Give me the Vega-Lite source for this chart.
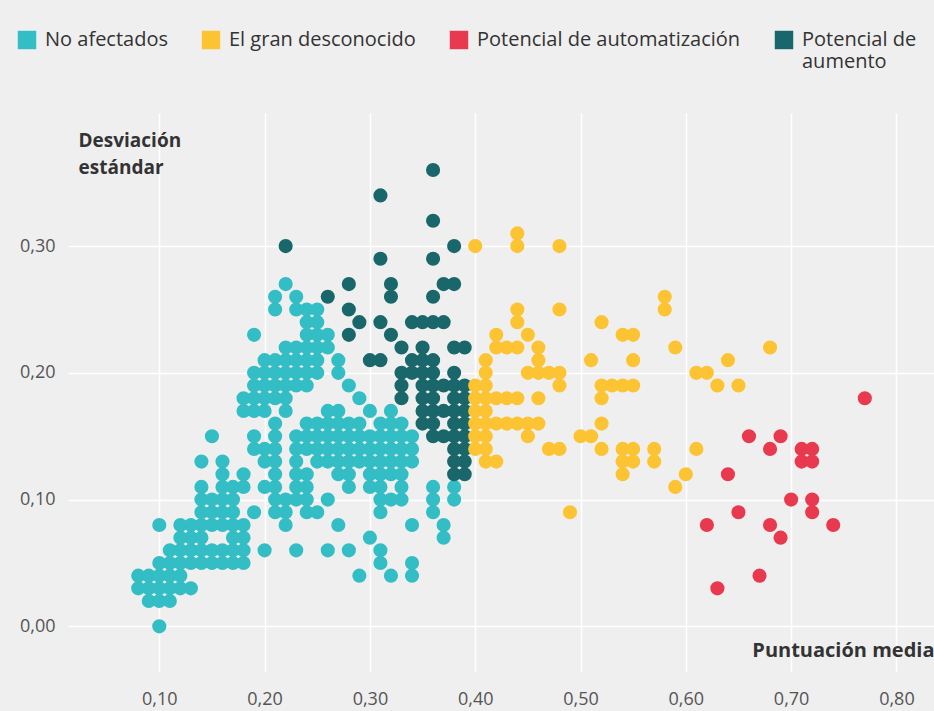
{
  "$schema": "https://vega.github.io/schema/vega-lite/v6.json",
  "width": 866,
  "height": 559,
  "autosize": {"type": "none"},
  "padding": {"left": 68, "top": 113, "right": 0, "bottom": 39},
  "background": "#efefef",
  "config": {
    "view": {"stroke": null, "fill": "#efefef"},
    "font": "Open Sans"
  },
  "data": {
    "values": [
      {"x":0.08,"y":0.03,"g":"No afectados"},{"x":0.08,"y":0.04,"g":"No afectados"},
      {"x":0.09,"y":0.02,"g":"No afectados"},{"x":0.09,"y":0.03,"g":"No afectados"},{"x":0.09,"y":0.04,"g":"No afectados"},
      {"x":0.10,"y":0.00,"g":"No afectados"},{"x":0.10,"y":0.02,"g":"No afectados"},{"x":0.10,"y":0.03,"g":"No afectados"},{"x":0.10,"y":0.04,"g":"No afectados"},{"x":0.10,"y":0.05,"g":"No afectados"},{"x":0.10,"y":0.08,"g":"No afectados"},
      {"x":0.11,"y":0.02,"g":"No afectados"},{"x":0.11,"y":0.03,"g":"No afectados"},{"x":0.11,"y":0.04,"g":"No afectados"},{"x":0.11,"y":0.05,"g":"No afectados"},{"x":0.11,"y":0.06,"g":"No afectados"},
      {"x":0.12,"y":0.03,"g":"No afectados"},{"x":0.12,"y":0.04,"g":"No afectados"},{"x":0.12,"y":0.05,"g":"No afectados"},{"x":0.12,"y":0.06,"g":"No afectados"},{"x":0.12,"y":0.07,"g":"No afectados"},{"x":0.12,"y":0.08,"g":"No afectados"},
      {"x":0.13,"y":0.03,"g":"No afectados"},{"x":0.13,"y":0.05,"g":"No afectados"},{"x":0.13,"y":0.06,"g":"No afectados"},{"x":0.13,"y":0.07,"g":"No afectados"},{"x":0.13,"y":0.08,"g":"No afectados"},
      {"x":0.14,"y":0.05,"g":"No afectados"},{"x":0.14,"y":0.06,"g":"No afectados"},{"x":0.14,"y":0.07,"g":"No afectados"},{"x":0.14,"y":0.08,"g":"No afectados"},{"x":0.14,"y":0.09,"g":"No afectados"},{"x":0.14,"y":0.10,"g":"No afectados"},{"x":0.14,"y":0.11,"g":"No afectados"},{"x":0.14,"y":0.13,"g":"No afectados"},
      {"x":0.15,"y":0.05,"g":"No afectados"},{"x":0.15,"y":0.06,"g":"No afectados"},{"x":0.15,"y":0.08,"g":"No afectados"},{"x":0.15,"y":0.09,"g":"No afectados"},{"x":0.15,"y":0.10,"g":"No afectados"},{"x":0.15,"y":0.15,"g":"No afectados"},
      {"x":0.16,"y":0.05,"g":"No afectados"},{"x":0.16,"y":0.06,"g":"No afectados"},{"x":0.16,"y":0.08,"g":"No afectados"},{"x":0.16,"y":0.09,"g":"No afectados"},{"x":0.16,"y":0.10,"g":"No afectados"},{"x":0.16,"y":0.11,"g":"No afectados"},{"x":0.16,"y":0.12,"g":"No afectados"},{"x":0.16,"y":0.13,"g":"No afectados"},
      {"x":0.17,"y":0.05,"g":"No afectados"},{"x":0.17,"y":0.06,"g":"No afectados"},{"x":0.17,"y":0.07,"g":"No afectados"},{"x":0.17,"y":0.08,"g":"No afectados"},{"x":0.17,"y":0.09,"g":"No afectados"},{"x":0.17,"y":0.10,"g":"No afectados"},{"x":0.17,"y":0.11,"g":"No afectados"},
      {"x":0.18,"y":0.05,"g":"No afectados"},{"x":0.18,"y":0.06,"g":"No afectados"},{"x":0.18,"y":0.07,"g":"No afectados"},{"x":0.18,"y":0.08,"g":"No afectados"},{"x":0.18,"y":0.11,"g":"No afectados"},{"x":0.18,"y":0.12,"g":"No afectados"},{"x":0.18,"y":0.17,"g":"No afectados"},{"x":0.18,"y":0.18,"g":"No afectados"},
      {"x":0.19,"y":0.09,"g":"No afectados"},{"x":0.19,"y":0.14,"g":"No afectados"},{"x":0.19,"y":0.15,"g":"No afectados"},{"x":0.19,"y":0.17,"g":"No afectados"},{"x":0.19,"y":0.18,"g":"No afectados"},{"x":0.19,"y":0.19,"g":"No afectados"},{"x":0.19,"y":0.20,"g":"No afectados"},{"x":0.19,"y":0.23,"g":"No afectados"},
      {"x":0.20,"y":0.06,"g":"No afectados"},{"x":0.20,"y":0.11,"g":"No afectados"},{"x":0.20,"y":0.13,"g":"No afectados"},{"x":0.20,"y":0.14,"g":"No afectados"},{"x":0.20,"y":0.17,"g":"No afectados"},{"x":0.20,"y":0.18,"g":"No afectados"},{"x":0.20,"y":0.19,"g":"No afectados"},{"x":0.20,"y":0.20,"g":"No afectados"},{"x":0.20,"y":0.21,"g":"No afectados"},
      {"x":0.21,"y":0.09,"g":"No afectados"},{"x":0.21,"y":0.10,"g":"No afectados"},{"x":0.21,"y":0.11,"g":"No afectados"},{"x":0.21,"y":0.12,"g":"No afectados"},{"x":0.21,"y":0.13,"g":"No afectados"},{"x":0.21,"y":0.14,"g":"No afectados"},{"x":0.21,"y":0.15,"g":"No afectados"},{"x":0.21,"y":0.16,"g":"No afectados"},{"x":0.21,"y":0.18,"g":"No afectados"},{"x":0.21,"y":0.19,"g":"No afectados"},{"x":0.21,"y":0.20,"g":"No afectados"},{"x":0.21,"y":0.21,"g":"No afectados"},{"x":0.21,"y":0.25,"g":"No afectados"},{"x":0.21,"y":0.26,"g":"No afectados"},
      {"x":0.22,"y":0.08,"g":"No afectados"},{"x":0.22,"y":0.09,"g":"No afectados"},{"x":0.22,"y":0.10,"g":"No afectados"},{"x":0.22,"y":0.17,"g":"No afectados"},{"x":0.22,"y":0.18,"g":"No afectados"},{"x":0.22,"y":0.19,"g":"No afectados"},{"x":0.22,"y":0.20,"g":"No afectados"},{"x":0.22,"y":0.21,"g":"No afectados"},{"x":0.22,"y":0.22,"g":"No afectados"},{"x":0.22,"y":0.27,"g":"No afectados"},
      {"x":0.23,"y":0.06,"g":"No afectados"},{"x":0.23,"y":0.10,"g":"No afectados"},{"x":0.23,"y":0.11,"g":"No afectados"},{"x":0.23,"y":0.12,"g":"No afectados"},{"x":0.23,"y":0.13,"g":"No afectados"},{"x":0.23,"y":0.14,"g":"No afectados"},{"x":0.23,"y":0.15,"g":"No afectados"},{"x":0.23,"y":0.19,"g":"No afectados"},{"x":0.23,"y":0.20,"g":"No afectados"},{"x":0.23,"y":0.21,"g":"No afectados"},{"x":0.23,"y":0.22,"g":"No afectados"},{"x":0.23,"y":0.25,"g":"No afectados"},{"x":0.23,"y":0.26,"g":"No afectados"},
      {"x":0.24,"y":0.09,"g":"No afectados"},{"x":0.24,"y":0.10,"g":"No afectados"},{"x":0.24,"y":0.11,"g":"No afectados"},{"x":0.24,"y":0.12,"g":"No afectados"},{"x":0.24,"y":0.14,"g":"No afectados"},{"x":0.24,"y":0.15,"g":"No afectados"},{"x":0.24,"y":0.16,"g":"No afectados"},{"x":0.24,"y":0.19,"g":"No afectados"},{"x":0.24,"y":0.20,"g":"No afectados"},{"x":0.24,"y":0.21,"g":"No afectados"},{"x":0.24,"y":0.22,"g":"No afectados"},{"x":0.24,"y":0.23,"g":"No afectados"},{"x":0.24,"y":0.24,"g":"No afectados"},{"x":0.24,"y":0.25,"g":"No afectados"},
      {"x":0.25,"y":0.09,"g":"No afectados"},{"x":0.25,"y":0.13,"g":"No afectados"},{"x":0.25,"y":0.14,"g":"No afectados"},{"x":0.25,"y":0.15,"g":"No afectados"},{"x":0.25,"y":0.16,"g":"No afectados"},{"x":0.25,"y":0.20,"g":"No afectados"},{"x":0.25,"y":0.21,"g":"No afectados"},{"x":0.25,"y":0.22,"g":"No afectados"},{"x":0.25,"y":0.23,"g":"No afectados"},{"x":0.25,"y":0.24,"g":"No afectados"},{"x":0.25,"y":0.25,"g":"No afectados"},
      {"x":0.26,"y":0.06,"g":"No afectados"},{"x":0.26,"y":0.10,"g":"No afectados"},{"x":0.26,"y":0.13,"g":"No afectados"},{"x":0.26,"y":0.14,"g":"No afectados"},{"x":0.26,"y":0.15,"g":"No afectados"},{"x":0.26,"y":0.16,"g":"No afectados"},{"x":0.26,"y":0.17,"g":"No afectados"},{"x":0.26,"y":0.22,"g":"No afectados"},{"x":0.26,"y":0.23,"g":"No afectados"},
      {"x":0.27,"y":0.08,"g":"No afectados"},{"x":0.27,"y":0.12,"g":"No afectados"},{"x":0.27,"y":0.13,"g":"No afectados"},{"x":0.27,"y":0.14,"g":"No afectados"},{"x":0.27,"y":0.15,"g":"No afectados"},{"x":0.27,"y":0.16,"g":"No afectados"},{"x":0.27,"y":0.17,"g":"No afectados"},{"x":0.27,"y":0.20,"g":"No afectados"},{"x":0.27,"y":0.21,"g":"No afectados"},
      {"x":0.28,"y":0.06,"g":"No afectados"},{"x":0.28,"y":0.11,"g":"No afectados"},{"x":0.28,"y":0.12,"g":"No afectados"},{"x":0.28,"y":0.13,"g":"No afectados"},{"x":0.28,"y":0.14,"g":"No afectados"},{"x":0.28,"y":0.15,"g":"No afectados"},{"x":0.28,"y":0.16,"g":"No afectados"},{"x":0.28,"y":0.19,"g":"No afectados"},
      {"x":0.29,"y":0.04,"g":"No afectados"},{"x":0.29,"y":0.13,"g":"No afectados"},{"x":0.29,"y":0.14,"g":"No afectados"},{"x":0.29,"y":0.15,"g":"No afectados"},{"x":0.29,"y":0.16,"g":"No afectados"},{"x":0.29,"y":0.18,"g":"No afectados"},
      {"x":0.30,"y":0.07,"g":"No afectados"},{"x":0.30,"y":0.11,"g":"No afectados"},{"x":0.30,"y":0.12,"g":"No afectados"},{"x":0.30,"y":0.13,"g":"No afectados"},{"x":0.30,"y":0.14,"g":"No afectados"},{"x":0.30,"y":0.15,"g":"No afectados"},{"x":0.30,"y":0.17,"g":"No afectados"},
      {"x":0.31,"y":0.05,"g":"No afectados"},{"x":0.31,"y":0.06,"g":"No afectados"},{"x":0.31,"y":0.09,"g":"No afectados"},{"x":0.31,"y":0.10,"g":"No afectados"},{"x":0.31,"y":0.11,"g":"No afectados"},{"x":0.31,"y":0.12,"g":"No afectados"},{"x":0.31,"y":0.13,"g":"No afectados"},{"x":0.31,"y":0.14,"g":"No afectados"},{"x":0.31,"y":0.15,"g":"No afectados"},{"x":0.31,"y":0.16,"g":"No afectados"},
      {"x":0.32,"y":0.04,"g":"No afectados"},{"x":0.32,"y":0.10,"g":"No afectados"},{"x":0.32,"y":0.12,"g":"No afectados"},{"x":0.32,"y":0.13,"g":"No afectados"},{"x":0.32,"y":0.14,"g":"No afectados"},{"x":0.32,"y":0.15,"g":"No afectados"},{"x":0.32,"y":0.16,"g":"No afectados"},{"x":0.32,"y":0.17,"g":"No afectados"},
      {"x":0.33,"y":0.10,"g":"No afectados"},{"x":0.33,"y":0.11,"g":"No afectados"},{"x":0.33,"y":0.12,"g":"No afectados"},{"x":0.33,"y":0.13,"g":"No afectados"},{"x":0.33,"y":0.14,"g":"No afectados"},{"x":0.33,"y":0.15,"g":"No afectados"},{"x":0.33,"y":0.16,"g":"No afectados"},
      {"x":0.34,"y":0.04,"g":"No afectados"},{"x":0.34,"y":0.05,"g":"No afectados"},{"x":0.34,"y":0.08,"g":"No afectados"},{"x":0.34,"y":0.13,"g":"No afectados"},{"x":0.34,"y":0.14,"g":"No afectados"},{"x":0.34,"y":0.15,"g":"No afectados"},
      {"x":0.36,"y":0.09,"g":"No afectados"},{"x":0.36,"y":0.10,"g":"No afectados"},{"x":0.36,"y":0.11,"g":"No afectados"},
      {"x":0.37,"y":0.07,"g":"No afectados"},{"x":0.37,"y":0.08,"g":"No afectados"},
      {"x":0.38,"y":0.10,"g":"No afectados"},{"x":0.38,"y":0.11,"g":"No afectados"},

      {"x":0.22,"y":0.30,"g":"Potencial de aumento"},{"x":0.31,"y":0.34,"g":"Potencial de aumento"},{"x":0.36,"y":0.36,"g":"Potencial de aumento"},{"x":0.36,"y":0.32,"g":"Potencial de aumento"},{"x":0.38,"y":0.30,"g":"Potencial de aumento"},{"x":0.31,"y":0.29,"g":"Potencial de aumento"},{"x":0.36,"y":0.29,"g":"Potencial de aumento"},{"x":0.28,"y":0.27,"g":"Potencial de aumento"},{"x":0.26,"y":0.26,"g":"Potencial de aumento"},{"x":0.32,"y":0.27,"g":"Potencial de aumento"},{"x":0.32,"y":0.26,"g":"Potencial de aumento"},{"x":0.37,"y":0.27,"g":"Potencial de aumento"},{"x":0.38,"y":0.27,"g":"Potencial de aumento"},{"x":0.36,"y":0.26,"g":"Potencial de aumento"},{"x":0.28,"y":0.25,"g":"Potencial de aumento"},{"x":0.29,"y":0.24,"g":"Potencial de aumento"},{"x":0.28,"y":0.23,"g":"Potencial de aumento"},{"x":0.31,"y":0.24,"g":"Potencial de aumento"},{"x":0.32,"y":0.23,"g":"Potencial de aumento"},{"x":0.33,"y":0.22,"g":"Potencial de aumento"},{"x":0.34,"y":0.24,"g":"Potencial de aumento"},{"x":0.35,"y":0.24,"g":"Potencial de aumento"},{"x":0.36,"y":0.24,"g":"Potencial de aumento"},{"x":0.37,"y":0.24,"g":"Potencial de aumento"},{"x":0.30,"y":0.21,"g":"Potencial de aumento"},{"x":0.31,"y":0.21,"g":"Potencial de aumento"},
      {"x":0.33,"y":0.20,"g":"Potencial de aumento"},{"x":0.33,"y":0.19,"g":"Potencial de aumento"},{"x":0.33,"y":0.18,"g":"Potencial de aumento"},
      {"x":0.34,"y":0.21,"g":"Potencial de aumento"},{"x":0.34,"y":0.20,"g":"Potencial de aumento"},
      {"x":0.35,"y":0.22,"g":"Potencial de aumento"},{"x":0.35,"y":0.21,"g":"Potencial de aumento"},{"x":0.35,"y":0.20,"g":"Potencial de aumento"},{"x":0.35,"y":0.19,"g":"Potencial de aumento"},{"x":0.35,"y":0.18,"g":"Potencial de aumento"},{"x":0.35,"y":0.17,"g":"Potencial de aumento"},{"x":0.35,"y":0.16,"g":"Potencial de aumento"},
      {"x":0.36,"y":0.21,"g":"Potencial de aumento"},{"x":0.36,"y":0.20,"g":"Potencial de aumento"},{"x":0.36,"y":0.19,"g":"Potencial de aumento"},{"x":0.36,"y":0.18,"g":"Potencial de aumento"},{"x":0.36,"y":0.17,"g":"Potencial de aumento"},{"x":0.36,"y":0.16,"g":"Potencial de aumento"},{"x":0.36,"y":0.15,"g":"Potencial de aumento"},
      {"x":0.37,"y":0.19,"g":"Potencial de aumento"},{"x":0.37,"y":0.17,"g":"Potencial de aumento"},{"x":0.37,"y":0.15,"g":"Potencial de aumento"},
      {"x":0.38,"y":0.22,"g":"Potencial de aumento"},{"x":0.38,"y":0.20,"g":"Potencial de aumento"},{"x":0.38,"y":0.19,"g":"Potencial de aumento"},{"x":0.38,"y":0.18,"g":"Potencial de aumento"},{"x":0.38,"y":0.17,"g":"Potencial de aumento"},{"x":0.38,"y":0.16,"g":"Potencial de aumento"},{"x":0.38,"y":0.15,"g":"Potencial de aumento"},{"x":0.38,"y":0.14,"g":"Potencial de aumento"},{"x":0.38,"y":0.13,"g":"Potencial de aumento"},{"x":0.38,"y":0.12,"g":"Potencial de aumento"},
      {"x":0.39,"y":0.22,"g":"Potencial de aumento"},{"x":0.39,"y":0.19,"g":"Potencial de aumento"},{"x":0.39,"y":0.18,"g":"Potencial de aumento"},{"x":0.39,"y":0.17,"g":"Potencial de aumento"},{"x":0.39,"y":0.16,"g":"Potencial de aumento"},{"x":0.39,"y":0.15,"g":"Potencial de aumento"},{"x":0.39,"y":0.14,"g":"Potencial de aumento"},{"x":0.39,"y":0.13,"g":"Potencial de aumento"},{"x":0.39,"y":0.12,"g":"Potencial de aumento"},

      {"x":0.40,"y":0.30,"g":"El gran desconocido"},{"x":0.44,"y":0.31,"g":"El gran desconocido"},{"x":0.44,"y":0.30,"g":"El gran desconocido"},{"x":0.48,"y":0.30,"g":"El gran desconocido"},{"x":0.44,"y":0.25,"g":"El gran desconocido"},{"x":0.48,"y":0.25,"g":"El gran desconocido"},{"x":0.52,"y":0.24,"g":"El gran desconocido"},{"x":0.54,"y":0.23,"g":"El gran desconocido"},{"x":0.55,"y":0.23,"g":"El gran desconocido"},{"x":0.58,"y":0.26,"g":"El gran desconocido"},{"x":0.58,"y":0.25,"g":"El gran desconocido"},{"x":0.59,"y":0.22,"g":"El gran desconocido"},{"x":0.61,"y":0.20,"g":"El gran desconocido"},{"x":0.62,"y":0.20,"g":"El gran desconocido"},{"x":0.63,"y":0.19,"g":"El gran desconocido"},{"x":0.65,"y":0.19,"g":"El gran desconocido"},{"x":0.64,"y":0.21,"g":"El gran desconocido"},{"x":0.68,"y":0.22,"g":"El gran desconocido"},{"x":0.51,"y":0.21,"g":"El gran desconocido"},{"x":0.55,"y":0.21,"g":"El gran desconocido"},{"x":0.52,"y":0.19,"g":"El gran desconocido"},{"x":0.53,"y":0.19,"g":"El gran desconocido"},{"x":0.54,"y":0.19,"g":"El gran desconocido"},{"x":0.55,"y":0.19,"g":"El gran desconocido"},{"x":0.52,"y":0.18,"g":"El gran desconocido"},{"x":0.52,"y":0.16,"g":"El gran desconocido"},{"x":0.50,"y":0.15,"g":"El gran desconocido"},{"x":0.51,"y":0.15,"g":"El gran desconocido"},{"x":0.52,"y":0.14,"g":"El gran desconocido"},{"x":0.54,"y":0.14,"g":"El gran desconocido"},{"x":0.55,"y":0.14,"g":"El gran desconocido"},{"x":0.54,"y":0.13,"g":"El gran desconocido"},{"x":0.55,"y":0.13,"g":"El gran desconocido"},{"x":0.54,"y":0.12,"g":"El gran desconocido"},{"x":0.57,"y":0.14,"g":"El gran desconocido"},{"x":0.57,"y":0.13,"g":"El gran desconocido"},{"x":0.60,"y":0.12,"g":"El gran desconocido"},{"x":0.59,"y":0.11,"g":"El gran desconocido"},{"x":0.61,"y":0.14,"g":"El gran desconocido"},{"x":0.49,"y":0.09,"g":"El gran desconocido"},
      {"x":0.42,"y":0.23,"g":"El gran desconocido"},{"x":0.43,"y":0.22,"g":"El gran desconocido"},{"x":0.44,"y":0.24,"g":"El gran desconocido"},{"x":0.45,"y":0.23,"g":"El gran desconocido"},{"x":0.46,"y":0.22,"g":"El gran desconocido"},{"x":0.46,"y":0.21,"g":"El gran desconocido"},{"x":0.45,"y":0.20,"g":"El gran desconocido"},{"x":0.46,"y":0.20,"g":"El gran desconocido"},{"x":0.47,"y":0.20,"g":"El gran desconocido"},{"x":0.48,"y":0.20,"g":"El gran desconocido"},{"x":0.48,"y":0.19,"g":"El gran desconocido"},{"x":0.41,"y":0.21,"g":"El gran desconocido"},{"x":0.41,"y":0.20,"g":"El gran desconocido"},{"x":0.41,"y":0.19,"g":"El gran desconocido"},{"x":0.41,"y":0.18,"g":"El gran desconocido"},{"x":0.41,"y":0.17,"g":"El gran desconocido"},{"x":0.42,"y":0.18,"g":"El gran desconocido"},{"x":0.43,"y":0.18,"g":"El gran desconocido"},{"x":0.44,"y":0.18,"g":"El gran desconocido"},{"x":0.46,"y":0.18,"g":"El gran desconocido"},{"x":0.41,"y":0.16,"g":"El gran desconocido"},{"x":0.42,"y":0.16,"g":"El gran desconocido"},{"x":0.43,"y":0.16,"g":"El gran desconocido"},{"x":0.44,"y":0.16,"g":"El gran desconocido"},{"x":0.45,"y":0.16,"g":"El gran desconocido"},{"x":0.46,"y":0.16,"g":"El gran desconocido"},{"x":0.45,"y":0.15,"g":"El gran desconocido"},{"x":0.41,"y":0.15,"g":"El gran desconocido"},{"x":0.41,"y":0.14,"g":"El gran desconocido"},{"x":0.47,"y":0.14,"g":"El gran desconocido"},{"x":0.48,"y":0.14,"g":"El gran desconocido"},{"x":0.42,"y":0.13,"g":"El gran desconocido"},{"x":0.40,"y":0.19,"g":"El gran desconocido"},{"x":0.40,"y":0.18,"g":"El gran desconocido"},{"x":0.40,"y":0.17,"g":"El gran desconocido"},{"x":0.40,"y":0.16,"g":"El gran desconocido"},{"x":0.40,"y":0.15,"g":"El gran desconocido"},{"x":0.40,"y":0.14,"g":"El gran desconocido"},{"x":0.41,"y":0.13,"g":"El gran desconocido"},{"x":0.42,"y":0.22,"g":"El gran desconocido"},{"x":0.44,"y":0.22,"g":"El gran desconocido"},

      {"x":0.77,"y":0.18,"g":"Potencial de automatización"},{"x":0.66,"y":0.15,"g":"Potencial de automatización"},{"x":0.68,"y":0.14,"g":"Potencial de automatización"},{"x":0.69,"y":0.15,"g":"Potencial de automatización"},{"x":0.71,"y":0.14,"g":"Potencial de automatización"},{"x":0.72,"y":0.14,"g":"Potencial de automatización"},{"x":0.71,"y":0.13,"g":"Potencial de automatización"},{"x":0.72,"y":0.13,"g":"Potencial de automatización"},{"x":0.64,"y":0.12,"g":"Potencial de automatización"},{"x":0.70,"y":0.10,"g":"Potencial de automatización"},{"x":0.72,"y":0.10,"g":"Potencial de automatización"},{"x":0.72,"y":0.09,"g":"Potencial de automatización"},{"x":0.65,"y":0.09,"g":"Potencial de automatización"},{"x":0.62,"y":0.08,"g":"Potencial de automatización"},{"x":0.68,"y":0.08,"g":"Potencial de automatización"},{"x":0.69,"y":0.07,"g":"Potencial de automatización"},{"x":0.74,"y":0.08,"g":"Potencial de automatización"},{"x":0.67,"y":0.04,"g":"Potencial de automatización"},{"x":0.63,"y":0.03,"g":"Potencial de automatización"}
    ]
  },
  "mark": {"type": "circle", "size": 200, "opacity": 1},
  "encoding": {
    "x": {
      "field": "x", "type": "quantitative",
      "scale": {"domain": [0.0133, 0.8357], "nice": false, "zero": false},
      "axis": {
        "values": [0.1, 0.2, 0.3, 0.4, 0.5, 0.6, 0.7, 0.8],
        "labelExpr": "replace(format(datum.value, '.2f'), '.', ',')",
        "grid": true, "gridColor": "#ffffff", "gridWidth": 1.5,
        "domain": false, "ticks": false,
        "labelFontSize": 18, "labelColor": "#555555", "labelPadding": 18,
        "title": "Puntuación media",
        "titleFontSize": 20, "titleFontWeight": "bold", "titleColor": "#333333",
        "titleX": 866, "titleY": -22, "titleAlign": "right", "titleBaseline": "middle"
      }
    },
    "y": {
      "field": "y", "type": "quantitative",
      "scale": {"domain": [-0.036, 0.405], "nice": false, "zero": false},
      "axis": {
        "values": [0, 0.1, 0.2, 0.3],
        "labelExpr": "replace(format(datum.value, '.2f'), '.', ',')",
        "grid": true, "gridColor": "#ffffff", "gridWidth": 1.5,
        "domain": false, "ticks": false,
        "labelFontSize": 18, "labelColor": "#555555", "labelPadding": 13,
        "title": ["Desviación", "estándar"],
        "titleFontSize": 19, "titleFontWeight": "bold", "titleColor": "#333333",
        "titleAngle": 0, "titleX": 10, "titleY": 18, "titleAlign": "left", "titleBaseline": "top",
        "titleLineHeight": 27
      }
    },
    "color": {
      "field": "g", "type": "nominal",
      "scale": {
        "domain": ["No afectados", "El gran desconocido", "Potencial de automatización", "Potencial de aumento"],
        "range": ["#33bdc4", "#fcc433", "#e8394f", "#19676a"]
      },
      "legend": {
        "orient": "none", "legendX": -51, "legendY": -83,
        "direction": "horizontal", "title": null,
        "symbolType": "square", "symbolSize": 340, "symbolStrokeWidth": 0, "symbolOpacity": 1,
        "labelFontSize": 20, "labelColor": "#333333", "labelOffset": 8, "labelLineHeight": 29,
        "columnPadding": 33, "padding": 0, "labelLimit": 400,
        "labelExpr": "datum.label == 'Potencial de aumento' ? ['Potencial de', 'aumento'] : [datum.label, '']"
      }
    }
  }
}
